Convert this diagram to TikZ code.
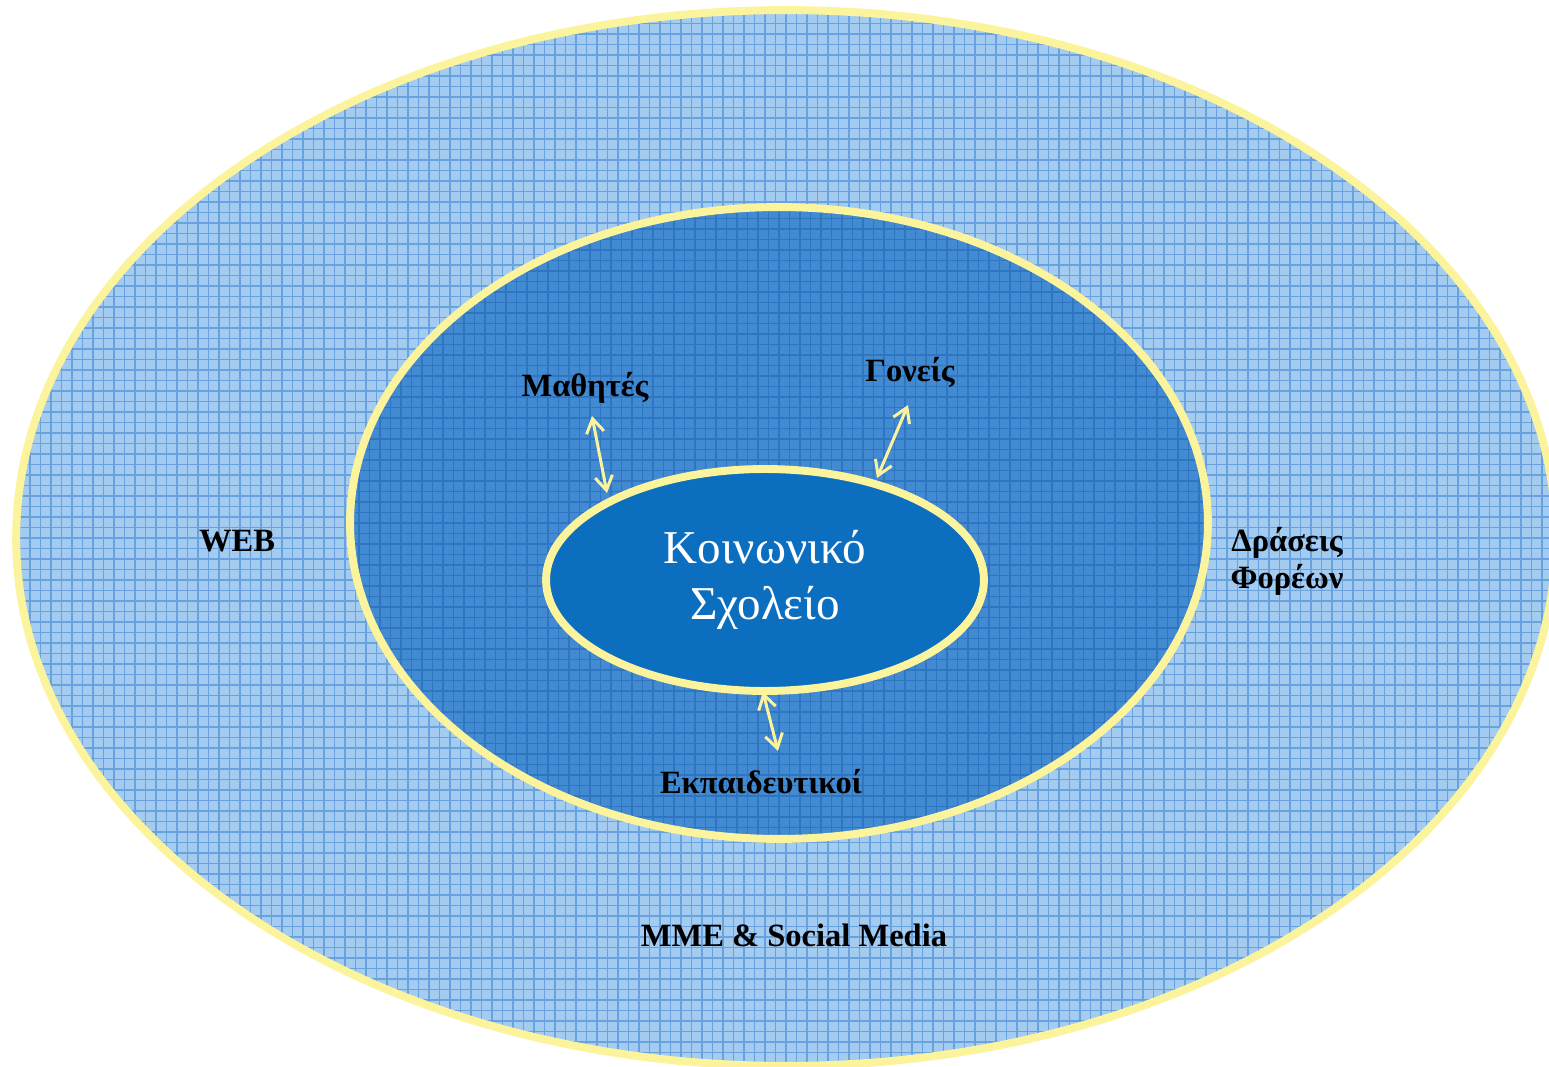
\documentclass[tikz,border=0pt]{standalone}
\usepackage{fontspec}
\setmainfont{Liberation Serif}
\usetikzlibrary{shapes.geometric,arrows.meta}
\definecolor{ylw}{RGB}{252,244,156}
\definecolor{outerblue}{RGB}{164,203,240}
\definecolor{outergrid}{RGB}{104,163,224}
\definecolor{midblue}{RGB}{66,138,210}
\definecolor{midgrid}{RGB}{46,118,194}
\definecolor{innerblue}{RGB}{12,110,191}
\tikzset{
  ring/.style={ellipse, draw=ylw, line width=4.5pt, inner sep=0pt},
  gridfill/.style={path picture={\draw[#1, line width=0.8pt]
      (path picture bounding box.south west) grid[step=0.21cm]
      (path picture bounding box.north east);}},
  lbl/.style={font=\fontsize{18.5}{21}\selectfont\bfseries, text=black, align=center},
  link/.style={draw=ylw, line width=1.7pt, {Straight Barb[length=8pt,width=10pt]}-{Straight Barb[length=8pt,width=10pt]}}
}
\begin{document}
\begin{tikzpicture}[x={(0.02cm,0)}, y={(0,-0.02cm)}]
\fill[white] (0,0) rectangle (1549,1067);
\clip (0,0) rectangle (1549,1067);
\node[ring, fill=outerblue, gridfill=outergrid, minimum width=30.8cm, minimum height=21.12cm] (outer) at (786,538) {};
\node[ring, fill=midblue, gridfill=midgrid, minimum width=17.16cm, minimum height=12.64cm] (middle) at (779,523) {};
\node[ring, fill=innerblue, minimum width=8.76cm, minimum height=4.44cm, text=white, align=center,
  font=\fontsize{26.8}{31.9}\selectfont] (school) at (765,580) {Κοινωνικό\\Σχολείο};
\node[lbl] (students) at (585,388) {Μαθητές};
\node[lbl] (parents) at (910,373) {Γονείς};
\node[lbl] (teachers) at (761,782) {Εκπαιδευτικοί};
\node[lbl] (web) at (237,541) {WEB};
\node[lbl] (actions) at (1287,561) {Δράσεις\\Φορέων};
\node[lbl] (media) at (794,935) {MME \& Social Media};
\coordinate (s1) at (592,416);
\coordinate (s2) at (607,493);
\coordinate (p1) at (908,405);
\coordinate (p2) at (877,478);
\coordinate (t1) at (763,692);
\coordinate (t2) at (778,751);
\draw[link] (s1) -- (s2);
\draw[link] (p1) -- (p2);
\draw[link] (t1) -- (t2);
\end{tikzpicture}
\end{document}
